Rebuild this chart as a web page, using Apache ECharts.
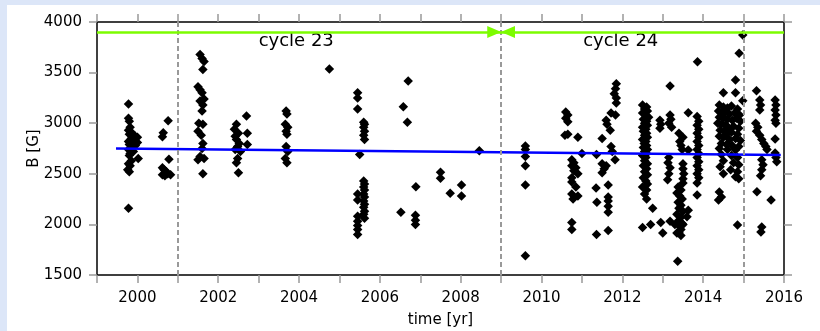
<!DOCTYPE html>
<html>
<head>
<meta charset="utf-8">
<script src="https://cdn.jsdelivr.net/npm/echarts@6/dist/echarts.min.js"></script>
<style>
body{margin:0;background:#dce6f8;}
#paper{position:absolute;left:7px;top:5px;width:813px;height:326px;background:#fff;}
#chart{position:absolute;left:0;top:0;width:820px;height:331px;}
</style>
</head>
<body>
<div id="paper"></div>
<div id="chart"></div>
<script>
// measurements, cycle 23 (before 2009)
var obs23 = [
	[1999.78,3190],[1999.78,3050],[1999.8,3020],[1999.82,2960],[1999.78,2930],[1999.85,2910],[1999.8,2890],[1999.9,2880],
	[1999.95,2870],[2000.0,2860],[1999.85,2850],[1999.92,2830],[1999.78,2820],[2000.0,2810],[1999.88,2800],[1999.8,2790],
	[1999.95,2780],[1999.85,2760],[1999.78,2740],[1999.9,2720],[1999.82,2700],[1999.8,2680],[2000.02,2650],[1999.85,2630],
	[1999.78,2600],[1999.82,2580],[1999.76,2540],[1999.8,2520],[1999.78,2160],
	[2000.76,3025],[2000.64,2905],[2000.62,2865],[2000.78,2645],[2000.62,2560],[2000.66,2540],[2000.72,2520],[2000.62,2490],
	[2000.75,2500],[2000.82,2490],[2000.68,2480],
	[2001.55,3680],[2001.6,3640],[2001.65,3610],[2001.62,3530],[2001.5,3360],[2001.55,3330],[2001.6,3300],[2001.65,3240],
	[2001.55,3220],[2001.62,3180],[2001.6,3120],[2001.52,3000],[2001.62,2990],[2001.5,2920],[2001.58,2880],[2001.62,2800],
	[2001.6,2750],[2001.55,2670],[2001.65,2650],[2001.5,2640],[2001.62,2500],
	[2002.45,2990],[2002.4,2940],[2002.5,2900],[2002.42,2870],[2002.7,3070],[2002.72,2900],[2002.45,2840],[2002.52,2800],
	[2002.72,2790],[2002.48,2770],[2002.42,2740],[2002.55,2720],[2002.48,2650],[2002.45,2610],[2002.5,2510],
	[2003.68,3120],[2003.7,3090],[2003.66,2990],[2003.72,2960],[2003.68,2920],[2003.7,2890],[2003.68,2770],[2003.72,2720],
	[2003.66,2650],[2003.7,2610],
	[2004.75,3536],
	[2005.45,3300],[2005.45,3250],[2005.45,3140],[2005.6,3010],[2005.62,2990],[2005.6,2960],[2005.62,2920],[2005.6,2880],
	[2005.62,2840],[2005.5,2690],[2005.6,2430],[2005.62,2400],[2005.6,2370],[2005.62,2340],[2005.45,2300],[2005.6,2300],
	[2005.62,2270],[2005.45,2240],[2005.6,2230],[2005.62,2200],[2005.6,2170],[2005.62,2130],[2005.6,2100],[2005.45,2080],
	[2005.62,2060],[2005.45,2030],[2005.45,1990],[2005.45,1950],[2005.45,1900],
	[2006.7,3417],[2006.58,3163],[2006.68,3009],[2006.52,2120],[2006.89,2373],[2006.88,2090],[2006.88,2040],[2006.88,2000],
	[2007.5,2515],[2007.5,2455],[2007.74,2307],[2008.02,2390],[2008.02,2280],[2008.46,2728]
];
// measurements, cycle 24 (after 2009)
var obs24 = [
	[2009.6,2775],[2009.6,2740],[2009.6,2670],[2009.6,2580],[2009.6,2390],[2009.6,1690],
	[2010.6,3110],[2010.65,3080],[2010.6,3050],[2010.65,3015],[2010.58,2880],[2010.65,2890],[2010.9,2860],[2011.0,2700],
	[2010.75,2640],[2010.8,2610],[2010.75,2580],[2010.85,2560],[2010.8,2530],[2010.9,2500],[2010.75,2460],[2010.75,2420],
	[2010.85,2370],[2010.75,2300],[2010.9,2280],[2010.78,2250],[2010.75,2020],[2010.75,1950],
	[2011.85,3390],[2011.83,3340],[2011.8,3290],[2011.85,3250],[2011.85,3200],[2011.72,3100],[2011.83,3080],[2011.6,3030],
	[2011.62,2990],[2011.7,2930],[2011.5,2850],[2011.72,2770],[2011.75,2720],[2011.36,2690],[2011.82,2640],[2011.5,2600],
	[2011.6,2580],[2011.55,2550],[2011.5,2510],[2011.35,2360],[2011.65,2390],[2011.37,2220],[2011.65,2270],[2011.65,2230],
	[2011.65,2180],[2011.65,2120],[2011.36,1900],[2011.65,1940],
	[2012.5,3180],[2012.6,3160],[2012.55,3140],[2012.62,3120],[2012.5,3100],[2012.58,3080],[2012.65,3060],[2012.52,3040],
	[2012.6,3020],[2012.55,3000],[2012.62,2980],[2012.5,2960],[2012.58,2940],[2012.52,2920],[2012.6,2900],[2012.55,2880],
	[2012.62,2860],[2012.5,2840],[2012.58,2820],[2012.54,2800],[2012.6,2780],[2012.52,2760],[2012.62,2740],[2012.55,2720],
	[2012.6,2700],[2012.5,2680],[2012.58,2660],[2012.55,2630],[2012.62,2600],[2012.52,2580],[2012.6,2550],[2012.55,2520],
	[2012.62,2490],[2012.52,2460],[2012.58,2430],[2012.62,2400],[2012.5,2370],[2012.6,2340],[2012.55,2300],[2012.6,2250],
	[2012.75,2160],[2012.5,1970],[2012.7,2000],
	[2013.18,3368],[2013.86,3608],[2012.93,3030],[2012.95,2990],[2012.93,2950],[2013.18,3080],[2013.2,3040],[2013.15,3000],
	[2013.22,2960],[2013.63,3104],
	[2013.85,3065],[2013.89,3020],[2013.85,2980],[2013.89,2940],[2013.85,2900],[2013.89,2860],[2013.85,2820],[2013.89,2780],
	[2013.85,2740],[2013.89,2700],[2013.85,2660],[2013.89,2620],[2013.85,2580],[2013.89,2540],[2013.85,2500],[2013.89,2460],
	[2013.85,2410],[2013.85,2290],
	[2013.4,2900],[2013.5,2860],[2013.42,2820],[2013.45,2780],[2013.48,2740],[2013.63,2735],
	[2013.15,2660],[2013.13,2610],[2013.18,2560],[2013.15,2500],[2013.12,2440],
	[2013.5,2600],[2013.5,2550],[2013.52,2500],[2013.5,2450],[2013.5,2410],
	[2013.38,2370],[2013.45,2340],[2013.35,2310],[2013.42,2280],[2013.48,2250],[2013.38,2220],[2013.45,2190],[2013.4,2160],
	[2013.5,2130],[2013.35,2100],[2013.45,2070],[2013.4,2040],[2013.48,2010],[2013.42,1980],[2013.45,1950],[2013.4,1920],
	[2013.45,1890],[2013.63,2140],[2013.6,2075],[2012.95,2020],[2013.18,2030],[2013.3,2000],[2013.5,2000],[2013.0,1915],
	[2013.35,1915],[2013.37,1635],
	[2014.98,3872],[2014.89,3690],[2014.8,3427],[2014.5,3302],[2014.8,3302],[2014.98,3222],
	[2014.4,3180],[2014.5,3160],[2014.6,3150],[2014.7,3170],[2014.85,3140],[2014.38,3120],[2014.45,3100],[2014.55,3110],
	[2014.65,3090],[2014.78,3100],[2014.9,3080],[2014.4,3060],[2014.5,3050],[2014.6,3040],[2014.72,3030],[2014.82,3050],
	[2014.92,3020],[2014.36,3000],[2014.45,2990],[2014.55,2980],[2014.62,2960],[2014.75,2970],[2014.88,2950],[2014.42,2930],
	[2014.52,2920],[2014.6,2900],[2014.7,2910],[2014.85,2890],[2014.4,2870],[2014.5,2860],[2014.65,2840],[2014.8,2850],
	[2014.92,2830],[2014.45,2800],[2014.58,2790],[2014.72,2780],[2014.88,2770],[2014.4,2750],[2014.6,2740],[2014.8,2735],
	[2014.45,2690],[2014.7,2680],[2014.85,2660],[2014.5,2630],[2014.75,2610],[2014.88,2590],[2014.42,2570],[2014.68,2540],
	[2014.85,2520],[2014.5,2500],[2014.8,2470],[2014.88,2450],[2014.4,2320],[2014.45,2270],[2014.38,2240],[2014.85,1995],
	[2015.32,3321],[2015.4,3230],[2015.42,3180],[2015.4,3130],[2015.78,3230],[2015.8,3180],[2015.78,3130],[2015.8,3080],
	[2015.78,3030],[2015.8,3000],[2015.78,2844],[2015.3,3000],[2015.35,2960],[2015.32,2920],[2015.4,2880],[2015.45,2840],
	[2015.5,2800],[2015.55,2770],[2015.58,2740],[2015.78,2706],[2015.8,2660],[2015.82,2620],[2015.45,2640],[2015.48,2590],
	[2015.45,2540],[2015.42,2480],[2015.33,2323],[2015.68,2241],[2015.45,1975],[2015.43,1925]
];
// linear fit
var fitLine = [[1999.47,2750],[2015.92,2686]];
// dashed markers
var boundaries = [2001, 2009, 2015];
var cycleLevel = 3900;
var arrowHeads = [[2008.83,3900,-90],[2009.17,3900,90]];
var cycleLabels = [[2003.93,3810,'cycle 23'],[2011.96,3810,'cycle 24']];

var font = 'DejaVu Sans';
function axisCommon(pos, showLabel){
	return {
		position: pos,
		nameMoveOverlap: false,
		axisLine: {show: true, onZero: false, lineStyle: {color: '#000', width: 1.5}},
		axisTick: {show: true, inside: false, length: 8, lineStyle: {color: '#999', width: 1.5}},
		splitLine: {show: false},
		axisLabel: {show: showLabel, color: '#000', fontFamily: font, fontSize: 15}
	};
}

var xBottom = axisCommon('bottom', true);
xBottom.type = 'value'; xBottom.min = 1999; xBottom.max = 2016; xBottom.interval = 1;
xBottom.axisLabel.margin = 16;
xBottom.axisLabel.formatter = function(v){ return v % 2 === 0 ? String(v) : ''; };
xBottom.name = 'time [yr]'; xBottom.nameLocation = 'middle'; xBottom.nameGap = 38;
xBottom.nameTextStyle = {color: '#000', fontFamily: font, fontSize: 15};

var xTop = axisCommon('top', false);
xTop.type = 'value'; xTop.min = 1999; xTop.max = 2016; xTop.interval = 1;

var yLeft = axisCommon('left', true);
yLeft.type = 'value'; yLeft.min = 1500; yLeft.max = 4000; yLeft.interval = 500;
yLeft.axisLabel.margin = 15;
yLeft.axisLabel.formatter = function(v){ return String(v); };
yLeft.name = 'B [G]'; yLeft.nameLocation = 'middle'; yLeft.nameGap = 55; yLeft.nameRotate = 90;
yLeft.nameTextStyle = {color: '#000', fontFamily: font, fontSize: 15};

var yRight = axisCommon('right', false);
yRight.type = 'value'; yRight.min = 1500; yRight.max = 4000; yRight.interval = 500;

var option = {
	animation: false,
	backgroundColor: 'transparent',
	grid: {left: 97, top: 22, right: 36, bottom: 56, containLabel: false, outerBoundsMode: 'none'},
	xAxis: [xBottom, xTop],
	yAxis: [yLeft, yRight],
	series: [
		{
			type: 'line', data: [], silent: true,
			markLine: {
				symbol: ['none','none'], silent: true, label: {show: false},
				lineStyle: {color: '#999', type: [5,3], width: 2, opacity: 1},
				data: boundaries.map(function(b){ return {xAxis: b}; })
			}
		},
		{
			type: 'line', data: [], silent: true,
			markLine: {
				symbol: ['none','none'], silent: true, label: {show: false},
				lineStyle: {color: '#7cfc00', type: 'solid', width: 2.5, opacity: 1},
				data: [{yAxis: cycleLevel}]
			}
		},
		{
			type: 'scatter', symbol: 'triangle', symbolSize: [12,14], silent: true,
			itemStyle: {color: '#7cfc00', opacity: 1},
			data: arrowHeads.map(function(a){ return {value: [a[0], a[1]], symbolRotate: a[2]}; })
		},
		{
			type: 'scatter', symbol: 'diamond', symbolSize: 9.5,
			itemStyle: {color: '#000', opacity: 1},
			data: obs23.concat(obs24)
		},
		{
			type: 'line', data: fitLine, symbol: 'none',
			lineStyle: {color: '#0000ff', width: 2.5}
		},
		{
			type: 'scatter', symbolSize: 0, silent: true,
			itemStyle: {opacity: 1},
			label: {
				show: true, position: 'inside', color: '#000', fontFamily: font, fontSize: 18,
				formatter: function(p){ return p.data[2]; }
			},
			data: cycleLabels
		}
	]
};

var myChart = echarts.init(document.getElementById('chart'));
myChart.setOption(option);
</script>
</body>
</html>
